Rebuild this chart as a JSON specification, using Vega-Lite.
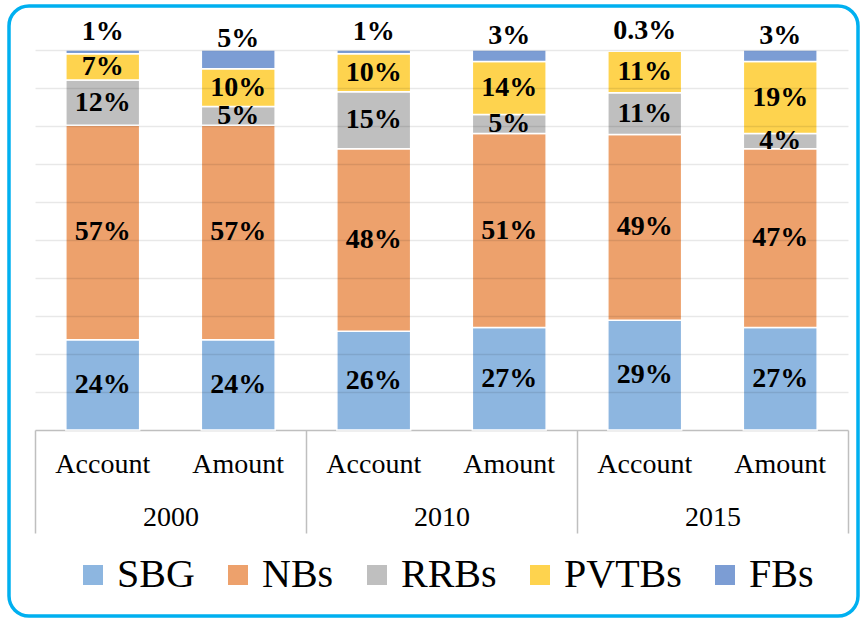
{
  "$schema": "https://vega.github.io/schema/vega-lite/v6.json",
  "width": 861,
  "height": 619,
  "autosize": {"type": "fit", "contains": "padding"},
  "padding": {"left": 9, "top": 6, "right": 3, "bottom": 3},
  "background": "white",
  "config": {
    "view": {"stroke": "#00b0f0", "strokeWidth": 3.5, "cornerRadius": 20},
    "font": "Liberation Serif"
  },
  "data": {
    "values": [
      {"year": "2000", "measure": "Account", "bank": "SBG", "pct": 24},
      {"year": "2000", "measure": "Account", "bank": "NBs", "pct": 57},
      {"year": "2000", "measure": "Account", "bank": "RRBs", "pct": 12},
      {"year": "2000", "measure": "Account", "bank": "PVTBs", "pct": 7},
      {"year": "2000", "measure": "Account", "bank": "FBs", "pct": 1},
      {"year": "2000", "measure": "Amount", "bank": "SBG", "pct": 24},
      {"year": "2000", "measure": "Amount", "bank": "NBs", "pct": 57},
      {"year": "2000", "measure": "Amount", "bank": "RRBs", "pct": 5},
      {"year": "2000", "measure": "Amount", "bank": "PVTBs", "pct": 10},
      {"year": "2000", "measure": "Amount", "bank": "FBs", "pct": 5},
      {"year": "2010", "measure": "Account", "bank": "SBG", "pct": 26},
      {"year": "2010", "measure": "Account", "bank": "NBs", "pct": 48},
      {"year": "2010", "measure": "Account", "bank": "RRBs", "pct": 15},
      {"year": "2010", "measure": "Account", "bank": "PVTBs", "pct": 10},
      {"year": "2010", "measure": "Account", "bank": "FBs", "pct": 1},
      {"year": "2010", "measure": "Amount", "bank": "SBG", "pct": 27},
      {"year": "2010", "measure": "Amount", "bank": "NBs", "pct": 51},
      {"year": "2010", "measure": "Amount", "bank": "RRBs", "pct": 5},
      {"year": "2010", "measure": "Amount", "bank": "PVTBs", "pct": 14},
      {"year": "2010", "measure": "Amount", "bank": "FBs", "pct": 3},
      {"year": "2015", "measure": "Account", "bank": "SBG", "pct": 29},
      {"year": "2015", "measure": "Account", "bank": "NBs", "pct": 49},
      {"year": "2015", "measure": "Account", "bank": "RRBs", "pct": 11},
      {"year": "2015", "measure": "Account", "bank": "PVTBs", "pct": 11},
      {"year": "2015", "measure": "Account", "bank": "FBs", "pct": 0.3},
      {"year": "2015", "measure": "Amount", "bank": "SBG", "pct": 27},
      {"year": "2015", "measure": "Amount", "bank": "NBs", "pct": 47},
      {"year": "2015", "measure": "Amount", "bank": "RRBs", "pct": 4},
      {"year": "2015", "measure": "Amount", "bank": "PVTBs", "pct": 19},
      {"year": "2015", "measure": "Amount", "bank": "FBs", "pct": 3}
    ]
  },
  "transform": [
    {"calculate": "datum.year + ' ' + datum.measure", "as": "cat"},
    {"calculate": "indexof(['SBG','NBs','RRBs','PVTBs','FBs'], datum.bank)", "as": "rank"},
    {"stack": "pct", "groupby": ["cat"], "sort": [{"field": "rank", "order": "ascending"}], "offset": "normalize", "as": ["y0", "y1"]},
    {"calculate": "(datum.y0 + datum.y1) / 2", "as": "ymid"},
    {"calculate": "datum.pct + '%'", "as": "lbl"}
  ],
  "layer": [
    {
      "layer": [
        {
          "mark": {"type": "bar", "stroke": "white", "strokeWidth": 1.5},
          "encoding": {
            "x": {
              "field": "cat", "type": "nominal",
              "scale": {"range": [26, 839], "paddingInner": 0.455, "paddingOuter": 0.2275},
              "axis": {
                "orient": "bottom", "offset": -186, "title": null, "domain": false,
                "ticks": false, "grid": false,
                "labelExpr": "split(datum.label, ' ')[1]",
                "labelFontSize": 28, "labelPadding": 20, "labelAngle": 0,
                "labelColor": "black", "labelFont": "Liberation Serif", "labelOverlap": false
              }
            },
            "y": {
              "field": "y0", "type": "quantitative",
              "scale": {"domain": [0, 1], "range": [424, 44], "nice": false},
              "axis": {
                "title": null, "labels": false, "ticks": false, "domain": false,
                "grid": true, "values": [0.1, 0.2, 0.3, 0.4, 0.5, 0.6, 0.7, 0.8, 0.9, 1.0],
                "gridColor": "rgba(0,0,0,0.09)", "gridWidth": 1.5, "zindex": 1,
                "minExtent": 0, "maxExtent": 0
              }
            },
            "y2": {"field": "y1"},
            "color": {
              "field": "bank", "type": "nominal",
              "scale": {
                "domain": ["SBG", "NBs", "RRBs", "PVTBs", "FBs"],
                "range": ["#8db6e0", "#eda16c", "#bfbfbf", "#fed34e", "#7c9dd4"]
              },
              "legend": {
                "orient": "none", "legendX": 64, "legendY": 549,
                "direction": "horizontal", "title": null,
                "symbolType": "square", "symbolSize": 400, "symbolStrokeWidth": 0,
                "labelFontSize": 40, "labelFont": "Liberation Serif", "labelColor": "black",
                "labelOffset": 4, "columnPadding": 23, "labelLimit": 300
              }
            }
          }
        },
        {
          "transform": [{"filter": "datum.bank != 'FBs'"}],
          "mark": {"type": "text", "fontSize": 28, "fontWeight": "bold", "font": "Liberation Serif", "color": "black", "baseline": "middle"},
          "encoding": {
            "x": {"field": "cat", "type": "nominal"},
            "y": {"field": "ymid", "type": "quantitative"},
            "text": {"field": "lbl", "type": "nominal"}
          }
        },
        {
          "transform": [{"filter": "datum.bank == 'FBs'"}],
          "mark": {"type": "text", "fontSize": 28, "fontWeight": "bold", "font": "Liberation Serif", "color": "black", "baseline": "middle", "dy": -20},
          "encoding": {
            "x": {"field": "cat", "type": "nominal"},
            "y": {"field": "ymid", "type": "quantitative"},
            "text": {"field": "lbl", "type": "nominal"}
          }
        }
      ]
    },
    {
      "mark": {"type": "text", "text": ""},
      "encoding": {
        "x": {
          "field": "year", "type": "nominal",
          "scale": {"range": [26, 839], "paddingInner": 0, "paddingOuter": 0},
          "axis": {
            "orient": "bottom", "offset": -186, "title": null,
            "domain": true, "domainColor": "#bfbfbf", "domainWidth": 1.5,
            "ticks": true, "tickBand": "extent", "tickSize": 103,
            "tickColor": "#bfbfbf", "tickWidth": 1.5, "grid": false,
            "labelFontSize": 28, "labelColor": "black", "labelFont": "Liberation Serif",
            "labelPadding": -30, "labelAngle": 0
          }
        }
      }
    }
  ],
  "resolve": {"scale": {"x": "independent"}, "axis": {"x": "independent"}}
}
